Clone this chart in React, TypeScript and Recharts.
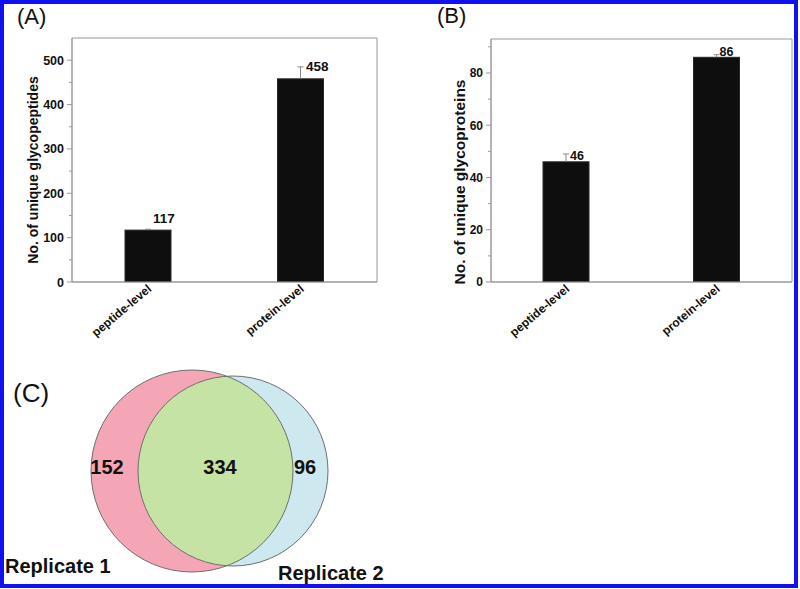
import React from "react";
import { BarChart, Bar, XAxis, YAxis, ReferenceArea, ScatterChart, Scatter } from "recharts";

const CATEGORIES = ["peptide-level", "protein-level"];
const GLYCOPEPTIDES = [117, 458];
const GLYCOPEPTIDES_ERR = [2, 27];
const GLYCOPROTEINS = [46, 86];
const GLYCOPROTEINS_ERR = [3, 1];
const TICKS_A = [0, 50, 100, 150, 200, 250, 300, 350, 400, 450, 500];
const TICKS_B = [0, 10, 20, 30, 40, 50, 60, 70, 80, 90];
const VENN_SETS = ["Replicate 1", "Replicate 2"];
const VENN_COUNTS = [152, 334, 96]; // only rep 1, shared, only rep 2

const FONT = "'Liberation Sans', Arial, sans-serif";
const AXIS = "#9a9a9a";
const BAR = "#0e0e0e";
const WHISKER = "#8a8a8a";

type PanelProps = {
    values: number[];
    errors: number[];
    ticks: number[];
    major: number;
    max: number;
    title: string;
    titleX: number;
    titleY: number;
    titleSize: number;
    tickSize: number;
    valueSize: number;
    labelOffsets: [number, number][];
    margin: { top: number; right: number; left: number; bottom: number };
};

function BarPanel(p: PanelProps) {
    const data = CATEGORIES.map((c, i) => ({ name: c, value: p.values[i], err: p.errors[i], idx: i }));

    const yTick = (t: any) => {
        const { x, y, payload } = t;
        const isMajor = payload.value % p.major === 0;
        return (
            <g>
                <line x1={x - (isMajor ? 5 : 3)} x2={x} y1={y} y2={y} stroke={AXIS} />
                {isMajor && (
                    <text x={x - 8} y={y} dy="0.36em" textAnchor="end" fontSize={p.tickSize} fontWeight="bold" fill="#111" fontFamily={FONT}>
                        {payload.value}
                    </text>
                )}
            </g>
        );
    };

    const xTick = (t: any) => {
        const ex = t.x + 4, ey = t.y + 8;
        return (
            <text x={ex} y={ey} transform={`rotate(-40 ${ex} ${ey})`} textAnchor="end" fontSize={12} fontWeight="bold" fill="#111" fontFamily={FONT}>
                {t.payload.value}
            </text>
        );
    };

    // bar + upper whisker + value label
    const shape = (s: any) => {
        const { x, y, width, height, payload } = s;
        const pxPerUnit = height / payload.value;
        const top = y - payload.err * pxPerUnit;
        const cx = x + width / 2;
        const [dx, dy] = p.labelOffsets[payload.idx];
        return (
            <g>
                <rect x={x} y={y} width={width} height={height} fill={BAR} stroke="#2a2a2a" />
                <line x1={cx} x2={cx} y1={y} y2={top} stroke={WHISKER} />
                <line x1={cx - 3} x2={cx + 3} y1={top} y2={top} stroke={WHISKER} />
                <text x={cx + dx} y={top + dy} fontSize={p.valueSize} fontWeight="bold" fill="#111" fontFamily={FONT}>
                    {payload.value}
                </text>
            </g>
        );
    };

    const title = () => (
        <text x={p.titleX} y={p.titleY} transform={`rotate(-90 ${p.titleX} ${p.titleY})`} textAnchor="middle" dominantBaseline="central"
            fontSize={p.titleSize} fontWeight="bold" fill="#111" fontFamily={FONT}>
            {p.title}
        </text>
    );

    return (
        <BarChart width={400} height={340} data={data} margin={p.margin}>
            <XAxis dataKey="name" height={58} axisLine={{ stroke: AXIS }} tickLine={false} tickSize={0} tickMargin={0} tick={xTick} interval={0} />
            <YAxis width={50} domain={[0, p.max]} ticks={p.ticks} allowDataOverflow axisLine={{ stroke: AXIS }} tickLine={false}
                tickSize={0} tickMargin={0} tick={yTick} interval={0} label={title} />
            {/* plot frame */}
            <ReferenceArea y1={0} y2={p.max} fill="none" fillOpacity={0} stroke={AXIS} strokeWidth={1} ifOverflow="visible" />
            <Bar dataKey="value" barSize={46} shape={shape} isAnimationActive={false} />
        </BarChart>
    );
}

// Venn layout in chart px (x right, y down from chart top)
const CIRCLES = [
    { x: 192, y: 131, r: 101, fill: "#f5a6b6" },
    { x: 233, y: 131, r: 95, fill: "#cde8ee" },
];
const COUNT_POS = [
    { x: 107, y: 134 },
    { x: 220, y: 134 },
    { x: 305, y: 134 },
];
const NAME_POS = [
    { x: 5, y: 233 },
    { x: 278, y: 240 },
];

function Venn() {
    const circleData = CIRCLES.map((c, i) => ({ ...c, idx: i }));
    const overlapData = [{ ...CIRCLES[1] }];
    const countData = VENN_COUNTS.map((v, i) => ({ ...COUNT_POS[i], text: String(v) }));
    const nameData = VENN_SETS.map((v, i) => ({ ...NAME_POS[i], text: v }));
    const STROKE = "#6e6e6e";

    const circleShape = (s: any) => (
        <g>
            <circle cx={s.cx} cy={s.cy} r={s.payload.r} fill={s.payload.fill} />
            {s.payload.idx === 0 && (
                <clipPath id="venn-rep1">
                    <circle cx={s.cx} cy={s.cy} r={s.payload.r} />
                </clipPath>
            )}
        </g>
    );
    const overlapShape = (s: any) => (
        <circle cx={s.cx} cy={s.cy} r={s.payload.r} fill="#c5e3a4" clipPath="url(#venn-rep1)" />
    );
    const outlineShape = (s: any) => (
        <circle cx={s.cx} cy={s.cy} r={s.payload.r} fill="none" stroke={STROKE} strokeWidth={1} />
    );
    const countShape = (s: any) => (
        <text x={s.cx} y={s.cy} textAnchor="middle" fontSize={20} fontWeight="bold" fill="#111" fontFamily={FONT}>{s.payload.text}</text>
    );
    const nameShape = (s: any) => (
        <text x={s.cx} y={s.cy} textAnchor="start" fontSize={20} fontWeight="bold" fill="#111" fontFamily={FONT}>{s.payload.text}</text>
    );

    return (
        <ScatterChart width={400} height={249} margin={{ top: 0, right: 0, bottom: 0, left: 0 }}>
            <XAxis type="number" dataKey="x" domain={[0, 400]} hide />
            <YAxis type="number" dataKey="y" domain={[0, 249]} reversed hide />
            <Scatter data={circleData} shape={circleShape} isAnimationActive={false} />
            <Scatter data={overlapData} shape={overlapShape} isAnimationActive={false} />
            <Scatter data={circleData} shape={outlineShape} isAnimationActive={false} />
            <Scatter data={countData} shape={countShape} isAnimationActive={false} />
            <Scatter data={nameData} shape={nameShape} isAnimationActive={false} />
        </ScatterChart>
    );
}

export default function App() {
    return (
        <div style={{ position: "absolute", left: 0, top: 0, width: 800, height: 589, background: "#fff", fontFamily: FONT, overflow: "hidden" }}>
            <div style={{ position: "absolute", left: 0, top: 0 }}>
                <BarPanel values={GLYCOPEPTIDES} errors={GLYCOPEPTIDES_ERR} ticks={TICKS_A} major={100} max={550}
                    title="No. of unique glycopeptides" titleX={32.5} titleY={170} titleSize={14} tickSize={12.5} valueSize={13.5}
                    labelOffsets={[[5, -6.5], [5.5, 4]]} margin={{ top: 38, right: 23, left: 22, bottom: 0 }} />
            </div>
            <div style={{ position: "absolute", left: 400, top: 0 }}>
                <BarPanel values={GLYCOPROTEINS} errors={GLYCOPROTEINS_ERR} ticks={TICKS_B} major={20} max={93}
                    title="No. of unique glycoproteins" titleX={59} titleY={182} titleSize={15.5} tickSize={12} valueSize={12.5}
                    labelOffsets={[[4, 6], [3, 1.5]]} margin={{ top: 39, right: 8, left: 41, bottom: 0 }} />
            </div>
            <div style={{ position: "absolute", left: 0, top: 340 }}>
                <Venn />
            </div>
            <svg width={800} height={589} style={{ position: "absolute", left: 0, top: 0, pointerEvents: "none" }}>
                <text x={17} y={24} fontSize={22} fill="#111" fontFamily={FONT}>(A)</text>
                <text x={437} y={23} fontSize={22} fill="#111" fontFamily={FONT}>(B)</text>
                <text x={13} y={402} fontSize={26} fill="#111" fontFamily={FONT}>(C)</text>
            </svg>
            <div style={{ position: "absolute", left: 0, top: 0, width: 798, height: 588, boxSizing: "border-box", border: "4px solid #1010f0", pointerEvents: "none" }} />
        </div>
    );
}
